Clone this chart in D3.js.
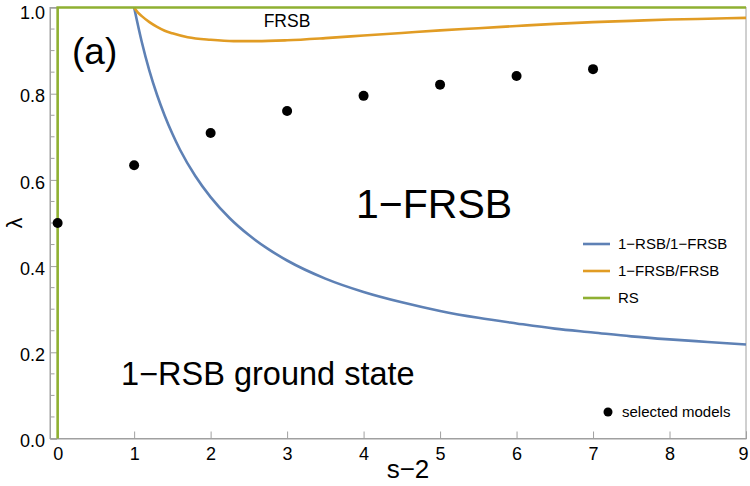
<!DOCTYPE html>
<html>
<head>
<meta charset="utf-8">
<script src="https://cdn.jsdelivr.net/npm/d3@7"></script>
<style>
  body { margin: 0; background: #fff; }
  text { font-family: "Liberation Sans", Arial, sans-serif; }
</style>
</head>
<body>
<div id="chart"></div>
<script>
// boundary 1-RSB / 1-FRSB (blue)
const blueX = [1, 1.1, 1.2, 1.3, 1.4, 1.5, 1.6, 1.8, 2, 2.25, 2.5, 2.75, 3, 3.5, 4, 4.5, 5, 5.5, 6, 6.5, 7, 7.5, 8, 8.5, 9];
const blueY = [1.0, 0.92, 0.853, 0.797, 0.749, 0.707, 0.67, 0.609, 0.56, 0.511, 0.472, 0.44, 0.413, 0.371, 0.34, 0.316, 0.296, 0.28, 0.267, 0.255, 0.246, 0.237, 0.23, 0.224, 0.218];

// boundary 1-FRSB / FRSB (orange)
const orangeX = [1, 1.05, 1.1, 1.2, 1.3, 1.4, 1.5, 1.7, 2, 2.3, 2.6, 3, 3.5, 4, 4.5, 5, 5.5, 6, 6.5, 7, 7.5, 8, 8.5, 9];
const orangeY = [1.0, 0.988, 0.98, 0.966, 0.955, 0.946, 0.94, 0.931, 0.925, 0.922, 0.922, 0.924, 0.929, 0.935, 0.941, 0.947, 0.952, 0.957, 0.962, 0.966, 0.969, 0.972, 0.974, 0.976];

// RS line (green)
const greenX = [0, 0, 9];
const greenY = [0, 1, 1];

// selected models (dots)
const modelX = [0, 1, 2, 3, 4, 5, 6, 7];
const modelY = [0.5, 0.634, 0.709, 0.76, 0.795, 0.821, 0.841, 0.857];

const xTicks = [0, 1, 2, 3, 4, 5, 6, 7, 8, 9];
const yTicks = [0, 0.2, 0.4, 0.6, 0.8, 1.0];
const yMinor = d3.range(0, 1.0001, 0.05);

const legendNames = ["1\u2212RSB/1\u2212FRSB", "1\u2212FRSB/FRSB", "RS"];
const legendColors = ["#5e81b5", "#e19c24", "#8fb032"];

const W = 750, H = 486;
const margin = { left: 50, right: 4, top: 7.5, bottom: 47.5 };

const svg = d3.select('#chart').append('svg')
    .attr('width', W)
    .attr('height', H);

const x = d3.scaleLinear().domain([-0.1, 9]).range([margin.left, W - margin.right]);
const y = d3.scaleLinear().domain([0, 1]).range([H - margin.bottom, margin.top]);

// frame
svg.append('rect')
    .attr('x', x(-0.1)).attr('y', y(1))
    .attr('width', x(9) - x(-0.1)).attr('height', y(0) - y(1))
    .attr('fill', 'none').attr('stroke', '#a0a0a0').attr('stroke-width', 1);

// x axis
const xAxis = svg.append('g')
    .attr('transform', `translate(0,${y(0)})`)
    .call(d3.axisBottom(x).tickValues(xTicks).tickFormat(d3.format('d')).tickSize(-7).tickPadding(9));
xAxis.select('.domain').attr('stroke', '#a0a0a0');
xAxis.selectAll('.tick line').attr('stroke', '#a0a0a0');
xAxis.selectAll('.tick text')
    .attr('font-size', 18).attr('fill', '#000')
    .attr('text-anchor', d => d === 9 ? 'end' : 'middle')
    .attr('x', d => d === 9 ? 2 : 0);

// y axis
const yAxis = svg.append('g')
    .attr('transform', `translate(${x(-0.1)},0)`)
    .call(d3.axisLeft(y).tickValues(yTicks).tickFormat(d3.format('.1f')).tickSize(-7).tickPadding(5));
yAxis.select('.domain').attr('stroke', '#a0a0a0');
yAxis.selectAll('.tick line').attr('stroke', '#a0a0a0');
yAxis.selectAll('.tick text')
    .attr('font-size', 18).attr('fill', '#000')
    .attr('dy', d => d === 1 ? '0.62em' : '0.46em');

svg.append('g').selectAll('line')
    .data(yMinor.filter(v => Math.round(v * 100) % 20 !== 0))
    .join('line')
    .attr('x1', x(-0.1)).attr('x2', x(-0.1) + 4.5)
    .attr('y1', d => y(d)).attr('y2', d => y(d))
    .attr('stroke', '#a0a0a0');

// axis titles
svg.append('text')
    .attr('x', 408).attr('y', 478)
    .attr('text-anchor', 'middle')
    .attr('font-size', 26)
    .text('s\u22122');

svg.append('text')
    .attr('transform', `translate(22,${y(0.5)}) rotate(-90)`)
    .attr('text-anchor', 'middle')
    .attr('font-size', 22)
    .text('\u03bb');

// curves
const line = d3.line()
    .x(d => x(d[0]))
    .y(d => y(d[1]))
    .curve(d3.curveMonotoneX);

const plot = svg.append('g');

plot.append('path')
    .datum(blueX.map((v, i) => [v, blueY[i]]))
    .attr('d', line)
    .attr('fill', 'none').attr('stroke', legendColors[0]).attr('stroke-width', 2.6);

plot.append('path')
    .datum(orangeX.map((v, i) => [v, orangeY[i]]))
    .attr('d', line)
    .attr('fill', 'none').attr('stroke', legendColors[1]).attr('stroke-width', 2.6);

plot.append('path')
    .datum(greenX.map((v, i) => [v, greenY[i]]))
    .attr('d', d3.line().x(d => x(d[0])).y(d => y(d[1])))
    .attr('fill', 'none').attr('stroke', legendColors[2]).attr('stroke-width', 2.6);

// dots
plot.selectAll('circle.model')
    .data(modelX.map((v, i) => [v, modelY[i]]))
    .join('circle')
    .attr('class', 'model')
    .attr('cx', d => x(d[0]))
    .attr('cy', d => y(d[1]))
    .attr('r', 5)
    .attr('fill', '#000');

// region labels
svg.append('text').attr('x', 72).attr('y', 64).attr('font-size', 37).text('(a)');
svg.append('text').attr('x', 287).attr('y', 27).attr('text-anchor', 'middle').attr('font-size', 17.5).text('FRSB');
svg.append('text').attr('x', 356).attr('y', 218).attr('font-size', 41).text('1\u2212FRSB');
svg.append('text').attr('x', 121).attr('y', 385).attr('font-size', 32.5).text('1\u2212RSB ground state');

// legend
const legend = svg.append('g');
legendNames.forEach((name, i) => {
    const ly = 244 + i * 27;
    legend.append('line')
        .attr('x1', 583).attr('x2', 610)
        .attr('y1', ly).attr('y2', ly)
        .attr('stroke', legendColors[i]).attr('stroke-width', 2.6);
    legend.append('text')
        .attr('x', 618).attr('y', ly + 5)
        .attr('font-size', 15)
        .text(name);
});

legend.append('circle').attr('cx', 608).attr('cy', 412).attr('r', 4.5).attr('fill', '#000');
legend.append('text').attr('x', 622).attr('y', 417).attr('font-size', 15).text('selected models');
</script>
</body>
</html>
